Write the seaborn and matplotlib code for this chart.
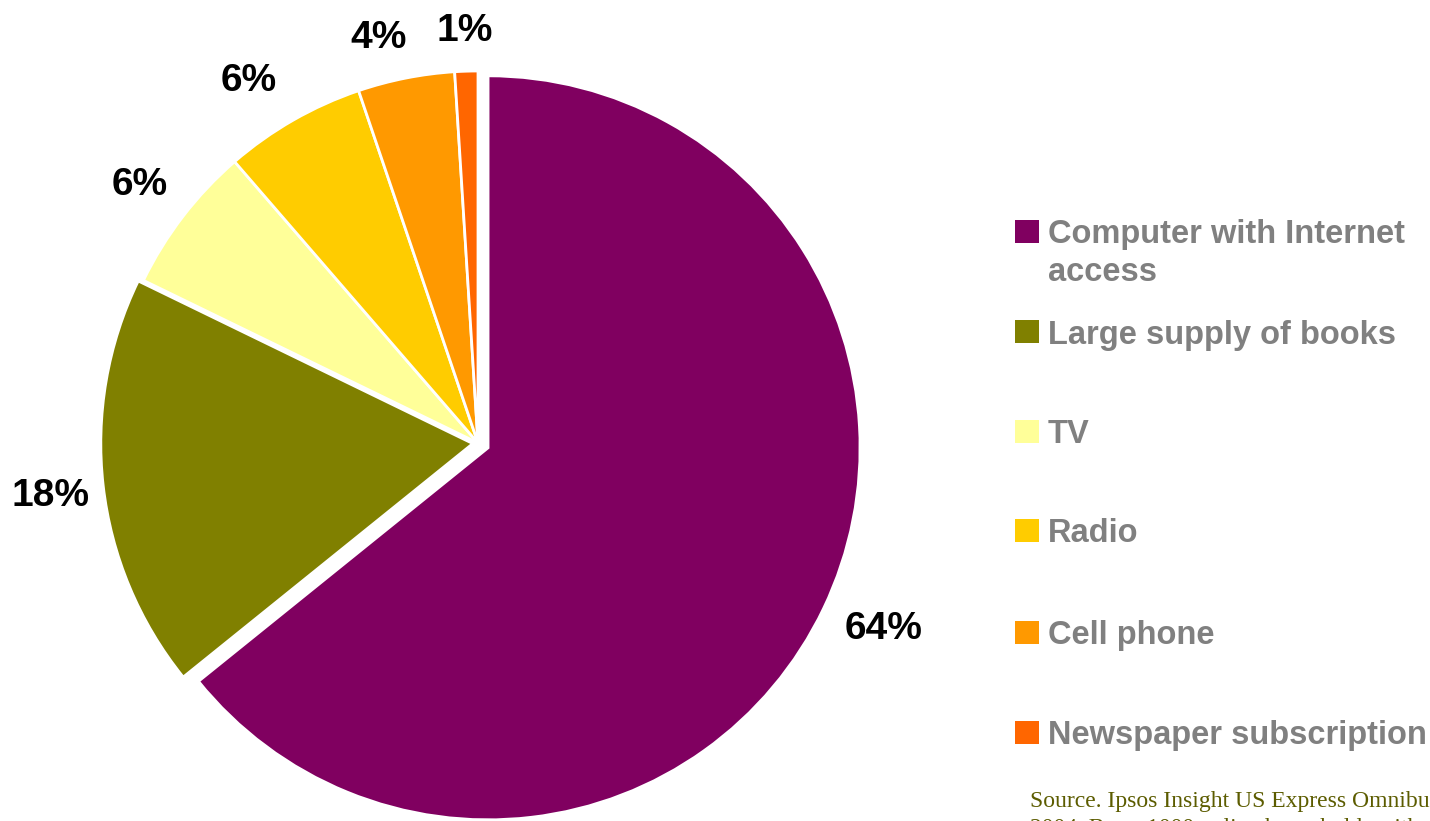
import matplotlib
matplotlib.use("Agg")
import numpy as np
import matplotlib.pyplot as plt
from matplotlib.patches import Rectangle
import seaborn as sns

# Where children would most like to look things up (share of respondents, %)
categories = [
    "Computer with Internet\naccess",
    "Large supply of books",
    "TV",
    "Radio",
    "Cell phone",
    "Newspaper subscription",
]
shares = [64.2, 18.0, 6.45, 6.15, 4.2, 1.0]
colors = ["#800060", "#808000", "#FFFF99", "#FFCC00", "#FF9900", "#FF6600"]
source_lines = [
    "Source. Ipsos Insight US Express Omnibus, September",
    "2004. Base: 1000 online households with children",
]

sns.set_theme(style="white")
plt.rcParams["font.family"] = ["Liberation Sans", "DejaVu Sans"]

W, H = 1430, 821
fig = plt.figure(figsize=(W / 100, H / 100), dpi=100)
ax = fig.add_axes([0, 0, 1, 1])

palette = sns.color_palette(colors)
wedges, _, autotexts = ax.pie(
    shares,
    colors=palette,
    startangle=90,
    counterclock=False,
    explode=[0.03, 0.014, 0, 0, 0, 0],
    autopct="%.0f%%",
    pctdistance=1.16,
    wedgeprops=dict(edgecolor="white", linewidth=2),
    textprops=dict(fontsize=28, fontweight="bold", color="black"),
)

# percentage labels: radial distance (in radii) and small angular nudge (deg)
label_dist = [1.169, 1.145, 1.143, 1.151, 1.122, 1.109]
label_turn = [0.96, 0.56, 0.16, 2.55, 2.64, 0.0]
for w, t, d, turn in zip(wedges, autotexts, label_dist, label_turn):
    mid = np.deg2rad(0.5 * (w.theta1 + w.theta2) + turn)
    t.set_position((w.center[0] + d * w.r * np.cos(mid),
                    w.center[1] + d * w.r * np.sin(mid)))

# pie radius 1 == 372 px, centre at (478, 443) px from top-left
r_px = 372.0
cx, cy = 478.0, 443.0
ax.set_xlim(-cx / r_px, (W - cx) / r_px)
ax.set_ylim(-(H - cy) / r_px, cy / r_px)
ax.set_aspect("auto")
ax.axis("off")

# legend drawn as coloured squares with grey bold labels
legend_y = [231.5, 332, 431.5, 530, 632, 732]
for label, color, y in zip(categories, colors, legend_y):
    fig.patches.append(
        Rectangle((1015 / W, 1 - (y + 11.5) / H), 24 / W, 23 / H,
                  transform=fig.transFigure, facecolor=color,
                  edgecolor="none")
    )
    for k, line in enumerate(label.split("\n")):
        fig.text(1048 / W, 1 - (y + 11.7 + 37.7 * k) / H, line,
                 fontsize=23.5, fontweight="bold", color="#808080",
                 ha="left", va="baseline")

for k, line in enumerate(source_lines):
    fig.text(1030 / W, 1 - (807 + 27.3 * k) / H, line,
             fontsize=17, family=["Liberation Serif", "DejaVu Serif"],
             color="#5C5C00", ha="left", va="baseline")

fig.savefig("out.png", dpi=100, facecolor="white")
